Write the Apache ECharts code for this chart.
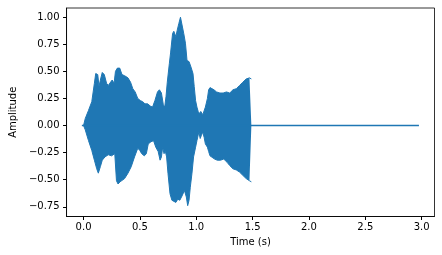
<!DOCTYPE html>
<html>
<head>
<meta charset="utf-8">
<script src="https://cdn.jsdelivr.net/npm/echarts@6/dist/echarts.min.js"></script>
<style>html,body{margin:0;padding:0;background:#fff}#c{width:442px;height:255px}</style>
</head>
<body>
<div id="c"></div>
<script>
// Upper envelope of the waveform (time in s, amplitude)
var upperTimes = [0.0,0.015,0.044,0.073,0.096,0.108,0.126,0.137,0.149,0.166,0.184,0.204,0.219,0.236,0.254,0.271,0.283,0.300,0.321,0.341,0.364,0.394,0.417,0.437,0.458,0.481,0.504,0.525,0.545,0.569,0.592,0.612,0.633,0.656,0.673,0.691,0.708,0.720,0.732,0.743,0.761,0.772,0.790,0.801,0.819,0.831,0.845,0.860,0.874,0.889,0.904,0.918,0.936,0.953,0.971,0.982,0.994,1.006,1.017,1.029,1.040,1.058,1.070,1.081,1.099,1.110,1.122,1.139,1.157,1.180,1.210,1.239,1.268,1.297,1.326,1.355,1.384,1.413,1.443,1.472,1.489];
var upperValues = [0.00,0.065,0.14,0.22,0.39,0.48,0.47,0.36,0.42,0.49,0.47,0.39,0.37,0.36,0.42,0.39,0.50,0.53,0.53,0.47,0.46,0.44,0.40,0.34,0.31,0.25,0.23,0.22,0.20,0.20,0.18,0.17,0.23,0.31,0.33,0.30,0.19,0.17,0.27,0.40,0.57,0.67,0.85,0.87,0.82,0.88,0.94,1.00,0.99,0.85,0.76,0.60,0.59,0.54,0.48,0.36,0.23,0.17,0.13,0.11,0.13,0.10,0.10,0.17,0.25,0.33,0.35,0.34,0.33,0.31,0.30,0.30,0.31,0.30,0.33,0.34,0.37,0.40,0.43,0.44,0.43];
// Lower envelope of the waveform
var lowerTimes = [0.0,0.015,0.044,0.073,0.096,0.117,0.131,0.149,0.166,0.190,0.219,0.248,0.277,0.292,0.306,0.324,0.341,0.364,0.394,0.423,0.452,0.481,0.499,0.516,0.539,0.557,0.574,0.598,0.621,0.641,0.662,0.679,0.691,0.702,0.714,0.726,0.737,0.749,0.767,0.784,0.801,0.819,0.836,0.854,0.874,0.895,0.912,0.924,0.936,0.947,0.962,0.976,0.994,1.006,1.023,1.035,1.046,1.058,1.070,1.081,1.099,1.110,1.122,1.139,1.163,1.186,1.215,1.244,1.274,1.297,1.326,1.355,1.384,1.413,1.443,1.472,1.489];
var lowerValues = [0.00,-0.04,-0.14,-0.23,-0.32,-0.40,-0.44,-0.38,-0.32,-0.29,-0.27,-0.28,-0.26,-0.51,-0.54,-0.52,-0.51,-0.49,-0.44,-0.38,-0.29,-0.21,-0.23,-0.26,-0.28,-0.26,-0.17,-0.15,-0.14,-0.20,-0.24,-0.32,-0.29,-0.20,-0.26,-0.24,-0.29,-0.44,-0.63,-0.69,-0.69,-0.71,-0.68,-0.69,-0.65,-0.60,-0.66,-0.74,-0.69,-0.57,-0.44,-0.29,-0.20,-0.14,-0.06,-0.12,-0.09,-0.06,-0.11,-0.17,-0.20,-0.24,-0.28,-0.29,-0.31,-0.32,-0.32,-0.31,-0.34,-0.37,-0.40,-0.41,-0.43,-0.46,-0.49,-0.51,-0.52];
// Zero-amplitude line (start stub through the silent tail)
var zeroTimes = [-0.015, 2.976];
var zeroValues = [0, 0];
// Tick values
var xTicks = [0, 0.5, 1.0, 1.5, 2.0, 2.5, 3.0];
var yTicks = [-0.75, -0.5, -0.25, 0, 0.25, 0.5, 0.75, 1.0];

function pairs(t, v) { return t.map(function (x, i) { return [x, v[i]]; }); }
var C = '#1f77b4';
var font = 'DejaVu Sans';
var chart = echarts.init(document.getElementById('c'), null, {renderer: 'canvas'});
chart.setOption({
  animation: false,
  grid: {left: 61, top: 8, width: 373.5, height: 208.5, show: true, borderColor: '#000', borderWidth: 0.8, backgroundColor: 'transparent'},
  xAxis: {
    type: 'value', min: -0.151, max: 3.114,
    name: 'Time (s)', nameLocation: 'middle', nameGap: 19,
    nameTextStyle: {fontFamily: font, fontSize: 10, color: '#000'},
    axisLine: {show: true, onZero: false, lineStyle: {color: '#000', width: 0.8}},
    splitLine: {show: false},
    axisTick: {show: true, length: 3.5, customValues: xTicks, lineStyle: {color: '#000', width: 1}},
    axisLabel: {customValues: xTicks, margin: 6, fontFamily: font, fontSize: 10, color: '#000',
      formatter: function (v) { return v.toFixed(1); }}
  },
  yAxis: {
    type: 'value', min: -0.84, max: 1.085,
    name: 'Amplitude', nameLocation: 'middle', nameGap: 36, nameRotate: 90,
    nameTextStyle: {fontFamily: font, fontSize: 10, color: '#000'},
    axisLine: {show: true, onZero: false, lineStyle: {color: '#000', width: 0.8}},
    splitLine: {show: false},
    axisTick: {show: true, length: 3.5, customValues: yTicks, lineStyle: {color: '#000', width: 1}},
    axisLabel: {customValues: yTicks, margin: 7, fontFamily: font, fontSize: 10, color: '#000',
      formatter: function (v) { return v.toFixed(2).replace('-', '\u2212'); }}
  },
  series: [
    {type: 'line', data: pairs(upperTimes, upperValues), symbol: 'none', lineStyle: {color: C, width: 1}, areaStyle: {color: C, opacity: 1, origin: 0}, z: 2},
    {type: 'line', data: pairs(lowerTimes, lowerValues), symbol: 'none', lineStyle: {color: C, width: 1}, areaStyle: {color: C, opacity: 1, origin: 0}, z: 2},
    {type: 'line', data: pairs(zeroTimes, zeroValues), symbol: 'none', lineStyle: {color: C, width: 1.5}, z: 3}
  ]
});
</script>
</body>
</html>
